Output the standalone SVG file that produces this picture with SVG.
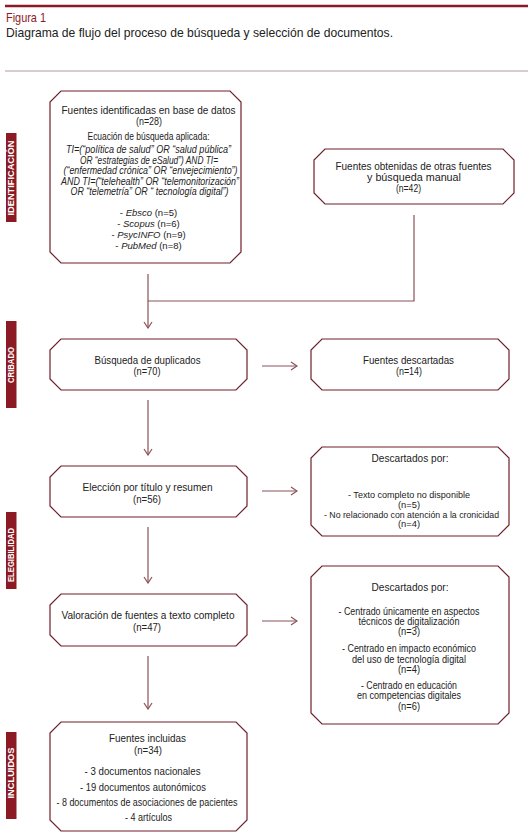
<svg xmlns="http://www.w3.org/2000/svg" width="528" height="834" viewBox="0 0 528 834">
<style>
  .box{fill:#fff;stroke:#6e1f29;stroke-width:1.2}
  .bar{fill:#8b1a24}
  .lbl{font-family:"Liberation Sans",Arial,sans-serif;font-weight:bold;font-size:8.5px;fill:#fff;text-anchor:middle}
  .t{font-family:"Liberation Sans",Arial,sans-serif;fill:#222;text-anchor:middle}
  .h{font-size:11.5px}
  .s{font-size:10.5px}
  .xs{font-size:10px}
  .xxs{font-size:9.5px}
  .i{font-style:italic}
  .conn{fill:none;stroke:#8a5258;stroke-width:1.2}
</style>
<defs>
  <marker id="arr" viewBox="0 0 10 10" refX="9" refY="5" markerWidth="10" markerHeight="10" markerUnits="userSpaceOnUse" orient="auto">
    <path d="M3,1 L9,5 L3,9" fill="none" stroke="#8a5258" stroke-width="1.2"/>
  </marker>
</defs>
<rect width="528" height="834" fill="#fff"/>

<g id="header">
  <line x1="5" y1="6" x2="528" y2="6" stroke="#8b1a24" stroke-width="2.5"/>
  <text x="6" y="22" font-family="'Liberation Sans',Arial,sans-serif" font-size="13" fill="#8b1a24" textLength="40" lengthAdjust="spacingAndGlyphs">Figura 1</text>
  <text x="6" y="37" font-family="'Liberation Sans',Arial,sans-serif" font-size="13" fill="#222" textLength="387" lengthAdjust="spacingAndGlyphs">Diagrama de flujo del proceso de búsqueda y selección de documentos.</text>
  <line x1="5" y1="71" x2="528" y2="71" stroke="#c8bcbe" stroke-width="1.5"/>
</g>

<g id="phase-labels">
  <rect class="bar" x="6" y="133" width="10.5" height="89"/>
  <text class="lbl" transform="translate(14.2,178) rotate(-90)" textLength="75" lengthAdjust="spacingAndGlyphs">IDENTIFICACIÓN</text>
  <rect class="bar" x="6" y="321" width="10.5" height="87"/>
  <text class="lbl" transform="translate(14.2,365) rotate(-90)" textLength="36" lengthAdjust="spacingAndGlyphs">CRIBADO</text>
  <rect class="bar" x="6" y="512" width="10.5" height="77"/>
  <text class="lbl" transform="translate(14.2,555) rotate(-90)" textLength="54" lengthAdjust="spacingAndGlyphs">ELEGIBILIDAD</text>
  <rect class="bar" x="6" y="732" width="10.5" height="87"/>
  <text class="lbl" transform="translate(14.2,773) rotate(-90)" textLength="51" lengthAdjust="spacingAndGlyphs">INCLUIDOS</text>
</g>

<g id="connectors">
  <path class="conn" d="M148,274 V301 H414 V215"/>
  <path class="conn" d="M148,301 V328" marker-end="url(#arr)"/>
  <path class="conn" d="M148,400 V455" marker-end="url(#arr)"/>
  <path class="conn" d="M148,527 V583" marker-end="url(#arr)"/>
  <path class="conn" d="M148,656 V709" marker-end="url(#arr)"/>
  <path class="conn" d="M262,366 H297" marker-end="url(#arr)"/>
  <path class="conn" d="M262,491 H297" marker-end="url(#arr)"/>
  <path class="conn" d="M262,621 H297" marker-end="url(#arr)"/>
</g>

<g id="n1">
  <polygon class="box" points="61,91 230,91 241,102 241,252 230,263 61,263 50,252 50,102"/>
  <text class="t h" x="148.5" y="114" textLength="174" lengthAdjust="spacingAndGlyphs">Fuentes identificadas en base de datos</text>
  <text class="t s" x="149" y="124.5" textLength="26" lengthAdjust="spacingAndGlyphs">(n=28)</text>
  <text class="t s" x="148.5" y="139.5" textLength="122" lengthAdjust="spacingAndGlyphs">Ecuación de búsqueda aplicada:</text>
  <text class="t xs i" x="148.5" y="153" textLength="165" lengthAdjust="spacingAndGlyphs">TI=(“política de salud” OR “salud pública”</text>
  <text class="t xs i" x="149" y="163.5" textLength="138" lengthAdjust="spacingAndGlyphs">OR “estrategias de eSalud”) AND TI=</text>
  <text class="t xs i" x="150.5" y="174" textLength="174" lengthAdjust="spacingAndGlyphs">(“enfermedad crónica” OR “envejecimiento”)</text>
  <text class="t xs i" x="150" y="184.5" textLength="178" lengthAdjust="spacingAndGlyphs">AND TI=(“telehealth” OR “telemonitorización”</text>
  <text class="t xs i" x="149.5" y="195" textLength="158" lengthAdjust="spacingAndGlyphs">OR “telemetría” OR “ tecnología digital”)</text>
  <text class="t xxs" x="148.5" y="216">- <tspan class="i">Ebsco</tspan> (n=5)</text>
  <text class="t xxs" x="148.5" y="227">- <tspan class="i">Scopus</tspan>  (n=6)</text>
  <text class="t xxs" x="148.5" y="238">- <tspan class="i">PsycINFO</tspan> (n=9)</text>
  <text class="t xxs" x="148.5" y="249">- <tspan class="i">PubMed</tspan> (n=8)</text>
</g>

<g id="n2">
  <polygon class="box" points="325,149 503,149 514,160 514,193 503,204 325,204 314,193 314,160"/>
  <text class="t h" x="413.5" y="169.5" textLength="156" lengthAdjust="spacingAndGlyphs">Fuentes obtenidas de otras fuentes</text>
  <text class="t h" x="414" y="180.5" textLength="94" lengthAdjust="spacingAndGlyphs">y búsqueda manual</text>
  <text class="t s" x="408.5" y="191.5" textLength="25" lengthAdjust="spacingAndGlyphs">(n=42)</text>
</g>

<g id="n3">
  <polygon class="box" points="61,339 236,339 247,350 247,379 236,390 61,390 50,379 50,350"/>
  <text class="t h" x="147.5" y="364" textLength="106" lengthAdjust="spacingAndGlyphs">Búsqueda de duplicados</text>
  <text class="t s" x="147" y="375" textLength="27" lengthAdjust="spacingAndGlyphs">(n=70)</text>
</g>

<g id="n4">
  <polygon class="box" points="322,339 498,339 509,350 509,379 498,390 322,390 311,379 311,350"/>
  <text class="t h" x="408.5" y="364" textLength="91" lengthAdjust="spacingAndGlyphs">Fuentes descartadas</text>
  <text class="t s" x="409" y="375" textLength="26" lengthAdjust="spacingAndGlyphs">(n=14)</text>
</g>

<g id="n5">
  <polygon class="box" points="61,466 236,466 247,477 247,506 236,517 61,517 50,506 50,477"/>
  <text class="t h" x="147.5" y="491" textLength="130" lengthAdjust="spacingAndGlyphs">Elección por título y resumen</text>
  <text class="t s" x="147" y="502.5" textLength="28" lengthAdjust="spacingAndGlyphs">(n=56)</text>
</g>

<g id="n6">
  <polygon class="box" points="322,447 498,447 509,458 509,525 498,536 322,536 311,525 311,458"/>
  <text class="t h" x="410" y="462" textLength="77" lengthAdjust="spacingAndGlyphs">Descartados por:</text>
  <text class="t xxs" x="409" y="498" textLength="122" lengthAdjust="spacingAndGlyphs">- Texto completo no disponible</text>
  <text class="t xxs" x="409" y="507.5" textLength="22" lengthAdjust="spacingAndGlyphs">(n=5)</text>
  <text class="t xxs" x="411.5" y="517.5" textLength="175" lengthAdjust="spacingAndGlyphs">- No relacionado con atención a la cronicidad</text>
  <text class="t xxs" x="409" y="527" textLength="22" lengthAdjust="spacingAndGlyphs">(n=4)</text>
</g>

<g id="n7">
  <polygon class="box" points="61,594 236,594 247,605 247,635 236,646 61,646 50,635 50,605"/>
  <text class="t h" x="148" y="619" textLength="173" lengthAdjust="spacingAndGlyphs">Valoración de fuentes a texto completo</text>
  <text class="t s" x="147" y="630.5" textLength="28" lengthAdjust="spacingAndGlyphs">(n=47)</text>
</g>

<g id="n8">
  <polygon class="box" points="322,566 498,566 509,577 509,713 498,724 322,724 311,713 311,577"/>
  <text class="t h" x="410" y="591" textLength="77" lengthAdjust="spacingAndGlyphs">Descartados por:</text>
  <text class="t xs" x="409" y="614.5" textLength="141" lengthAdjust="spacingAndGlyphs">- Centrado únicamente en aspectos</text>
  <text class="t xs" x="409" y="625" textLength="101" lengthAdjust="spacingAndGlyphs">técnicos de digitalización</text>
  <text class="t xs" x="409" y="635" textLength="22" lengthAdjust="spacingAndGlyphs">(n=3)</text>
  <text class="t xs" x="409" y="652" textLength="134" lengthAdjust="spacingAndGlyphs">- Centrado en impacto económico</text>
  <text class="t xs" x="409" y="662.5" textLength="114" lengthAdjust="spacingAndGlyphs">del uso de tecnología digital</text>
  <text class="t xs" x="409" y="672.5" textLength="22" lengthAdjust="spacingAndGlyphs">(n=4)</text>
  <text class="t xs" x="409" y="688.5" textLength="96" lengthAdjust="spacingAndGlyphs">- Centrado en educación</text>
  <text class="t xs" x="409" y="699" textLength="104" lengthAdjust="spacingAndGlyphs">en competencias digitales</text>
  <text class="t xs" x="409" y="709.5" textLength="22" lengthAdjust="spacingAndGlyphs">(n=6)</text>
</g>

<g id="n9">
  <polygon class="box" points="61,722 236,722 247,733 247,820 236,831 61,831 50,820 50,733"/>
  <text class="t h" x="147.5" y="741.5" textLength="77" lengthAdjust="spacingAndGlyphs">Fuentes incluidas</text>
  <text class="t s" x="148" y="754" textLength="28" lengthAdjust="spacingAndGlyphs">(n=34)</text>
  <text class="t s" x="142.5" y="775" textLength="116" lengthAdjust="spacingAndGlyphs">- 3 documentos nacionales</text>
  <text class="t s" x="143" y="791" textLength="126" lengthAdjust="spacingAndGlyphs">- 19 documentos autonómicos</text>
  <text class="t s" x="147" y="806" textLength="181" lengthAdjust="spacingAndGlyphs">- 8 documentos de asociaciones de pacientes</text>
  <text class="t s" x="148.5" y="821" textLength="47" lengthAdjust="spacingAndGlyphs">- 4 artículos</text>
</g>
</svg>
